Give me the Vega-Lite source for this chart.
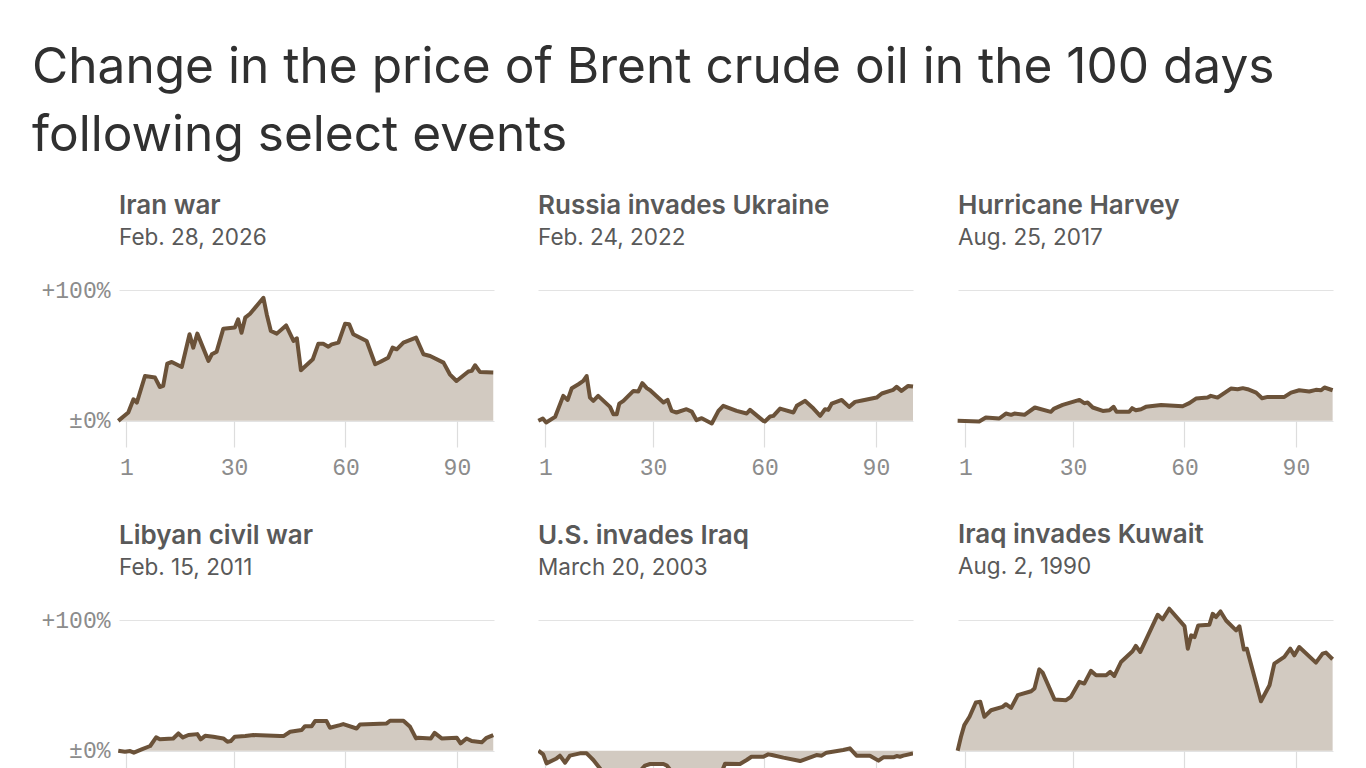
{
  "$schema": "https://vega.github.io/schema/vega-lite/v6.json",
  "background": "white",
  "padding": {"left": 31, "top": 42, "right": 10, "bottom": 0},
  "title": {
    "text": ["Change in the price of Brent crude oil in the 100 days", "following select events"],
    "anchor": "start",
    "frame": "bounds",
    "font": "Inter",
    "fontSize": 49.6,
    "fontWeight": 400,
    "lineHeight": 68,
    "color": "#303030",
    "offset": 31,
    "dx": -9
  },
  "datasets": {
    "iran": [
      {"day": -1.2, "change": 0.0}, {"day": 1.5, "change": 6.4}, {"day": 2.9, "change": 16.5}, {"day": 3.8, "change": 14.0},
      {"day": 6.0, "change": 34.3}, {"day": 8.7, "change": 33.1}, {"day": 10.0, "change": 25.9}, {"day": 10.9, "change": 26.7},
      {"day": 12.0, "change": 43.8}, {"day": 13.2, "change": 45.0}, {"day": 15.9, "change": 41.2}, {"day": 18.0, "change": 66.2},
      {"day": 19.0, "change": 56.0}, {"day": 20.1, "change": 66.7}, {"day": 23.1, "change": 45.8}, {"day": 24.0, "change": 50.9},
      {"day": 25.3, "change": 52.9}, {"day": 27.1, "change": 70.5}, {"day": 30.2, "change": 71.3}, {"day": 31.1, "change": 77.6},
      {"day": 32.0, "change": 67.4}, {"day": 33.0, "change": 78.9}, {"day": 34.3, "change": 81.9}, {"day": 37.9, "change": 94.1},
      {"day": 38.8, "change": 81.4}, {"day": 39.9, "change": 68.7}, {"day": 41.5, "change": 66.7}, {"day": 44.0, "change": 73.0},
      {"day": 46.0, "change": 61.1}, {"day": 46.9, "change": 63.1}, {"day": 48.0, "change": 38.7}, {"day": 51.2, "change": 47.1},
      {"day": 52.7, "change": 59.0}, {"day": 54.0, "change": 59.0}, {"day": 55.4, "change": 56.7}, {"day": 56.3, "change": 58.5},
      {"day": 58.1, "change": 59.8}, {"day": 59.9, "change": 74.3}, {"day": 61.0, "change": 73.8}, {"day": 62.1, "change": 66.2},
      {"day": 65.7, "change": 61.1}, {"day": 68.0, "change": 43.3}, {"day": 69.3, "change": 45.0}, {"day": 71.5, "change": 48.3},
      {"day": 72.7, "change": 56.0}, {"day": 73.8, "change": 54.7}, {"day": 75.6, "change": 59.8}, {"day": 79.0, "change": 63.6},
      {"day": 81.0, "change": 50.9}, {"day": 82.8, "change": 49.6}, {"day": 86.4, "change": 44.5}, {"day": 88.1, "change": 35.6},
      {"day": 89.9, "change": 30.5}, {"day": 93.1, "change": 37.7}, {"day": 94.0, "change": 38.2}, {"day": 94.9, "change": 42.5},
      {"day": 96.2, "change": 37.4}, {"day": 99.8, "change": 36.9}
    ],
    "russia": [
      {"day": -0.9, "change": 0.0}, {"day": 0.3, "change": 1.8}, {"day": 1.2, "change": -1.3}, {"day": 3.6, "change": 3.0},
      {"day": 5.8, "change": 19.1}, {"day": 7.0, "change": 16.0}, {"day": 8.1, "change": 25.0}, {"day": 9.9, "change": 28.0},
      {"day": 11.2, "change": 30.5}, {"day": 12.1, "change": 34.3}, {"day": 13.0, "change": 17.8}, {"day": 13.9, "change": 15.3},
      {"day": 15.2, "change": 19.1}, {"day": 18.4, "change": 10.7}, {"day": 19.3, "change": 5.1}, {"day": 20.2, "change": 5.1},
      {"day": 20.9, "change": 13.2}, {"day": 22.0, "change": 15.3}, {"day": 24.7, "change": 22.9}, {"day": 26.0, "change": 22.4},
      {"day": 27.1, "change": 28.8}, {"day": 28.3, "change": 25.0}, {"day": 29.2, "change": 23.4}, {"day": 32.8, "change": 14.0},
      {"day": 33.9, "change": 16.0}, {"day": 35.0, "change": 7.6}, {"day": 36.3, "change": 6.4}, {"day": 39.0, "change": 8.9},
      {"day": 40.4, "change": 7.1}, {"day": 41.7, "change": 0.5}, {"day": 43.1, "change": 2.0}, {"day": 45.8, "change": -2.0},
      {"day": 47.6, "change": 7.6}, {"day": 48.9, "change": 11.5}, {"day": 52.5, "change": 7.6}, {"day": 55.2, "change": 5.6},
      {"day": 56.1, "change": 8.4}, {"day": 59.7, "change": 0.0}, {"day": 60.1, "change": -0.5}, {"day": 61.5, "change": 3.3},
      {"day": 62.4, "change": 3.8}, {"day": 64.2, "change": 9.4}, {"day": 67.8, "change": 6.4}, {"day": 68.7, "change": 11.5},
      {"day": 70.9, "change": 15.3}, {"day": 73.2, "change": 9.4}, {"day": 75.0, "change": 3.8}, {"day": 76.3, "change": 8.9},
      {"day": 77.2, "change": 8.4}, {"day": 78.1, "change": 13.2}, {"day": 80.8, "change": 16.0}, {"day": 82.8, "change": 10.7},
      {"day": 84.4, "change": 14.5}, {"day": 86.6, "change": 15.8}, {"day": 90.2, "change": 17.8}, {"day": 91.6, "change": 20.9},
      {"day": 93.8, "change": 22.9}, {"day": 94.7, "change": 23.7}, {"day": 95.6, "change": 26.0}, {"day": 96.9, "change": 22.9},
      {"day": 98.7, "change": 26.7}, {"day": 100.0, "change": 26.2}
    ],
    "harvey": [
      {"day": -1.1, "change": 0.0}, {"day": 4.7, "change": -0.5}, {"day": 6.5, "change": 2.5}, {"day": 10.1, "change": 1.8},
      {"day": 11.9, "change": 5.6}, {"day": 13.3, "change": 4.6}, {"day": 14.2, "change": 5.6}, {"day": 16.9, "change": 4.6},
      {"day": 19.7, "change": 10.2}, {"day": 24.0, "change": 6.9}, {"day": 24.9, "change": 9.4}, {"day": 27.2, "change": 12.2},
      {"day": 31.7, "change": 16.0}, {"day": 33.0, "change": 13.5}, {"day": 33.9, "change": 14.0}, {"day": 35.3, "change": 10.2},
      {"day": 38.0, "change": 7.6}, {"day": 39.8, "change": 8.1}, {"day": 40.9, "change": 10.7}, {"day": 41.7, "change": 6.9},
      {"day": 45.1, "change": 6.9}, {"day": 45.9, "change": 9.7}, {"day": 46.9, "change": 8.1}, {"day": 48.3, "change": 8.9},
      {"day": 49.6, "change": 10.7}, {"day": 53.7, "change": 12.2}, {"day": 59.5, "change": 11.2}, {"day": 61.3, "change": 13.5},
      {"day": 63.1, "change": 17.0}, {"day": 66.2, "change": 17.8}, {"day": 67.1, "change": 19.1}, {"day": 68.9, "change": 17.8},
      {"day": 72.5, "change": 24.7}, {"day": 74.3, "change": 24.2}, {"day": 75.7, "change": 25.0}, {"day": 77.0, "change": 24.2},
      {"day": 79.3, "change": 21.6}, {"day": 80.9, "change": 17.3}, {"day": 82.4, "change": 18.3}, {"day": 86.9, "change": 18.3},
      {"day": 88.7, "change": 21.6}, {"day": 90.9, "change": 23.4}, {"day": 93.6, "change": 22.4}, {"day": 95.4, "change": 23.7},
      {"day": 96.8, "change": 23.4}, {"day": 97.7, "change": 25.5}, {"day": 99.9, "change": 23.4}
    ],
    "libya": [
      {"day": -1.2, "change": 0.0}, {"day": 0.6, "change": -0.8}, {"day": 2.0, "change": -0.3}, {"day": 3.0, "change": -1.5},
      {"day": 5.1, "change": 1.0}, {"day": 7.4, "change": 3.6}, {"day": 9.0, "change": 10.2}, {"day": 10.0, "change": 8.7},
      {"day": 13.6, "change": 9.4}, {"day": 15.0, "change": 13.2}, {"day": 16.2, "change": 10.2}, {"day": 17.7, "change": 12.0},
      {"day": 20.1, "change": 12.7}, {"day": 21.0, "change": 8.7}, {"day": 22.2, "change": 11.4}, {"day": 24.4, "change": 10.7},
      {"day": 27.1, "change": 9.4}, {"day": 28.2, "change": 6.9}, {"day": 29.1, "change": 7.4}, {"day": 30.2, "change": 10.7},
      {"day": 33.0, "change": 11.2}, {"day": 35.2, "change": 12.0}, {"day": 42.4, "change": 11.2}, {"day": 43.3, "change": 11.2},
      {"day": 45.1, "change": 14.5}, {"day": 48.2, "change": 15.8}, {"day": 49.1, "change": 18.8}, {"day": 50.9, "change": 18.8},
      {"day": 51.8, "change": 22.7}, {"day": 54.9, "change": 22.7}, {"day": 55.8, "change": 17.6}, {"day": 58.5, "change": 19.6},
      {"day": 59.4, "change": 20.4}, {"day": 63.0, "change": 17.0}, {"day": 63.9, "change": 20.1}, {"day": 71.1, "change": 20.9},
      {"day": 72.0, "change": 22.9}, {"day": 75.6, "change": 22.9}, {"day": 77.4, "change": 18.3}, {"day": 79.0, "change": 9.4},
      {"day": 79.6, "change": 9.9}, {"day": 83.0, "change": 9.4}, {"day": 84.0, "change": 13.7}, {"day": 85.9, "change": 9.4},
      {"day": 90.0, "change": 9.9}, {"day": 91.0, "change": 5.6}, {"day": 92.6, "change": 9.4}, {"day": 94.0, "change": 7.4},
      {"day": 96.7, "change": 6.4}, {"day": 98.0, "change": 9.9}, {"day": 99.8, "change": 12.0}
    ],
    "iraq": [
      {"day": -0.9, "change": 0.0}, {"day": 0.4, "change": -2.8}, {"day": 1.3, "change": -9.7}, {"day": 4.0, "change": -5.9},
      {"day": 4.9, "change": -3.8}, {"day": 6.3, "change": -9.2}, {"day": 7.6, "change": -3.8}, {"day": 10.3, "change": -2.0},
      {"day": 12.1, "change": -2.0}, {"day": 13.0, "change": -4.6}, {"day": 13.9, "change": -7.1}, {"day": 14.8, "change": -10.4},
      {"day": 16.1, "change": -15.0}, {"day": 18.4, "change": -16.5}, {"day": 21.1, "change": -16.0}, {"day": 23.8, "change": -17.0},
      {"day": 26.5, "change": -15.5}, {"day": 27.8, "change": -11.4}, {"day": 29.2, "change": -10.2}, {"day": 32.8, "change": -10.2},
      {"day": 33.7, "change": -11.4}, {"day": 35.0, "change": -16.0}, {"day": 38.1, "change": -18.0}, {"day": 41.7, "change": -17.0},
      {"day": 45.3, "change": -18.0}, {"day": 48.5, "change": -16.0}, {"day": 49.4, "change": -9.9}, {"day": 53.4, "change": -10.2},
      {"day": 55.2, "change": -7.1}, {"day": 56.5, "change": -4.6}, {"day": 59.7, "change": -4.6}, {"day": 61.0, "change": -2.8},
      {"day": 62.0, "change": -3.3}, {"day": 65.1, "change": -5.3}, {"day": 69.6, "change": -7.9}, {"day": 74.0, "change": -3.3},
      {"day": 75.4, "change": -3.8}, {"day": 76.7, "change": -1.5}, {"day": 81.2, "change": 0.5}, {"day": 83.0, "change": 1.8},
      {"day": 84.8, "change": -3.8}, {"day": 88.4, "change": -3.8}, {"day": 90.7, "change": -7.6}, {"day": 92.0, "change": -5.1},
      {"day": 94.7, "change": -5.1}, {"day": 95.6, "change": -4.1}, {"day": 96.5, "change": -4.6}, {"day": 97.4, "change": -3.8},
      {"day": 100.0, "change": -2.0}
    ],
    "kuwait": [
      {"day": -1.1, "change": 0.0}, {"day": -0.2, "change": 10.7}, {"day": 0.7, "change": 19.6}, {"day": 2.1, "change": 26.0},
      {"day": 3.8, "change": 36.9}, {"day": 5.0, "change": 37.4}, {"day": 6.1, "change": 26.0}, {"day": 7.9, "change": 31.0},
      {"day": 11.0, "change": 33.6}, {"day": 11.9, "change": 35.6}, {"day": 13.3, "change": 32.8}, {"day": 15.1, "change": 42.5},
      {"day": 18.7, "change": 45.5}, {"day": 19.6, "change": 47.6}, {"day": 20.9, "change": 62.3}, {"day": 21.8, "change": 59.8},
      {"day": 25.0, "change": 39.2}, {"day": 28.1, "change": 38.7}, {"day": 29.4, "change": 41.2}, {"day": 31.7, "change": 52.7},
      {"day": 33.0, "change": 51.4}, {"day": 34.8, "change": 61.1}, {"day": 36.2, "change": 57.8}, {"day": 38.9, "change": 57.8},
      {"day": 40.0, "change": 60.3}, {"day": 41.1, "change": 57.2}, {"day": 42.9, "change": 67.9}, {"day": 46.0, "change": 76.1},
      {"day": 46.9, "change": 80.2}, {"day": 48.1, "change": 75.6}, {"day": 52.8, "change": 104.1}, {"day": 54.1, "change": 100.5},
      {"day": 55.9, "change": 108.7}, {"day": 60.0, "change": 95.4}, {"day": 60.9, "change": 78.1}, {"day": 61.8, "change": 88.3},
      {"day": 62.7, "change": 87.0}, {"day": 63.7, "change": 95.9}, {"day": 66.7, "change": 96.4}, {"day": 67.6, "change": 104.8},
      {"day": 68.5, "change": 102.3}, {"day": 69.7, "change": 106.6}, {"day": 71.2, "change": 99.7}, {"day": 73.9, "change": 92.1},
      {"day": 74.8, "change": 95.2}, {"day": 76.0, "change": 77.4}, {"day": 76.8, "change": 78.1}, {"day": 80.6, "change": 37.9},
      {"day": 82.9, "change": 50.1}, {"day": 84.2, "change": 66.7}, {"day": 86.9, "change": 71.8}, {"day": 88.5, "change": 78.1},
      {"day": 89.6, "change": 73.0}, {"day": 90.9, "change": 79.4}, {"day": 95.4, "change": 67.4}, {"day": 97.2, "change": 74.3},
      {"day": 98.1, "change": 75.1}, {"day": 99.9, "change": 70.0}
    ]
  },
  "columns": 3,
  "spacing": {"row": 43, "column": 40},
  "align": "each",
  "concat": [
    {
      "title": {"text": "Iran war", "subtitle": "Feb. 28, 2026"},
      "width": 375, "height": 170,
      "data": {"name": "iran"},
      "encoding": {
        "x": {"field": "day", "type": "quantitative", "scale": {"domain": [-1, 100], "nice": false, "zero": false}, "axis": {"values": [1, 30, 60, 90]}},
        "y": {"field": "change", "type": "quantitative", "scale": {"domain": [-20, 110], "nice": false}, "axis": {"values": [0, 100]}}
      },
      "layer": [
        {"mark": {"type": "area", "color": "#d2cac1"}},
        {"mark": {"type": "line", "color": "#6b5239", "strokeWidth": 4, "strokeJoin": "round"}}
      ]
    },
    {
      "title": {"text": "Russia invades Ukraine", "subtitle": "Feb. 24, 2022"},
      "width": 375, "height": 170,
      "data": {"name": "russia"},
      "encoding": {
        "x": {"field": "day", "type": "quantitative", "scale": {"domain": [-1, 100], "nice": false, "zero": false}, "axis": {"values": [1, 30, 60, 90]}},
        "y": {"field": "change", "type": "quantitative", "scale": {"domain": [-20, 110], "nice": false}, "axis": {"values": [0, 100], "labels": false}}
      },
      "layer": [
        {"mark": {"type": "area", "color": "#d2cac1"}},
        {"mark": {"type": "line", "color": "#6b5239", "strokeWidth": 4, "strokeJoin": "round"}}
      ]
    },
    {
      "title": {"text": "Hurricane Harvey", "subtitle": "Aug. 25, 2017"},
      "width": 375, "height": 170,
      "data": {"name": "harvey"},
      "encoding": {
        "x": {"field": "day", "type": "quantitative", "scale": {"domain": [-1, 100], "nice": false, "zero": false}, "axis": {"values": [1, 30, 60, 90]}},
        "y": {"field": "change", "type": "quantitative", "scale": {"domain": [-20, 110], "nice": false}, "axis": {"values": [0, 100], "labels": false}}
      },
      "layer": [
        {"mark": {"type": "area", "color": "#d2cac1"}},
        {"mark": {"type": "line", "color": "#6b5239", "strokeWidth": 4, "strokeJoin": "round"}}
      ]
    },
    {
      "title": {"text": "Libyan civil war", "subtitle": "Feb. 15, 2011"},
      "width": 375, "height": 162,
      "data": {"name": "libya"},
      "encoding": {
        "x": {"field": "day", "type": "quantitative", "scale": {"domain": [-1, 100], "nice": false, "zero": false}, "axis": {"values": [1, 30, 60, 90], "labels": false, "tickSize": -18}},
        "y": {"field": "change", "type": "quantitative", "scale": {"domain": [-14, 110], "nice": false}, "axis": {"values": [0, 100]}}
      },
      "layer": [
        {"mark": {"type": "area", "color": "#d2cac1"}},
        {"mark": {"type": "line", "color": "#6b5239", "strokeWidth": 4, "strokeJoin": "round"}}
      ]
    },
    {
      "title": {"text": "U.S. invades Iraq", "subtitle": "March 20, 2003"},
      "width": 375, "height": 162,
      "data": {"name": "iraq"},
      "encoding": {
        "x": {"field": "day", "type": "quantitative", "scale": {"domain": [-1, 100], "nice": false, "zero": false}, "axis": {"values": [1, 30, 60, 90], "labels": false, "tickSize": -18}},
        "y": {"field": "change", "type": "quantitative", "scale": {"domain": [-14, 110], "nice": false}, "axis": {"values": [0, 100], "labels": false}}
      },
      "layer": [
        {"mark": {"type": "area", "color": "#d2cac1", "clip": true}},
        {"mark": {"type": "line", "color": "#6b5239", "strokeWidth": 4, "strokeJoin": "round", "clip": true}}
      ]
    },
    {
      "title": {"text": "Iraq invades Kuwait", "subtitle": "Aug. 2, 1990"},
      "width": 375, "height": 162,
      "data": {"name": "kuwait"},
      "encoding": {
        "x": {"field": "day", "type": "quantitative", "scale": {"domain": [-1, 100], "nice": false, "zero": false}, "axis": {"values": [1, 30, 60, 90], "labels": false, "tickSize": -18}},
        "y": {"field": "change", "type": "quantitative", "scale": {"domain": [-14, 110], "nice": false}, "axis": {"values": [0, 100], "labels": false}}
      },
      "layer": [
        {"mark": {"type": "area", "color": "#d2cac1"}},
        {"mark": {"type": "line", "color": "#6b5239", "strokeWidth": 4, "strokeJoin": "round"}}
      ]
    }
  ],
  "config": {
    "view": {"stroke": null},
    "title": {
      "anchor": "start",
      "frame": "group",
      "font": "Inter",
      "fontSize": 26,
      "fontWeight": 600,
      "color": "#595959",
      "subtitleFont": "Inter",
      "subtitleFontSize": 22.5,
      "subtitleFontWeight": 400,
      "subtitleColor": "#595959",
      "subtitlePadding": 8,
      "offset": 28
    },
    "axisX": {
      "grid": false,
      "domain": false,
      "tickSize": -26,
      "tickColor": "#dddddd",
      "tickWidth": 1.2,
      "labelPadding": 35,
      "labelFont": "Liberation Mono",
      "labelFontSize": 23,
      "labelColor": "#8c8c8c",
      "title": null
    },
    "axisY": {
      "grid": true,
      "gridColor": "#e3e3e3",
      "gridWidth": 1.2,
      "domain": false,
      "ticks": false,
      "labelPadding": 9,
      "labelExpr": "datum.value == 0 ? '±0%' : '+100%'",
      "labelFont": "Liberation Mono",
      "labelFontSize": 23,
      "labelColor": "#8c8c8c",
      "title": null
    }
  }
}
